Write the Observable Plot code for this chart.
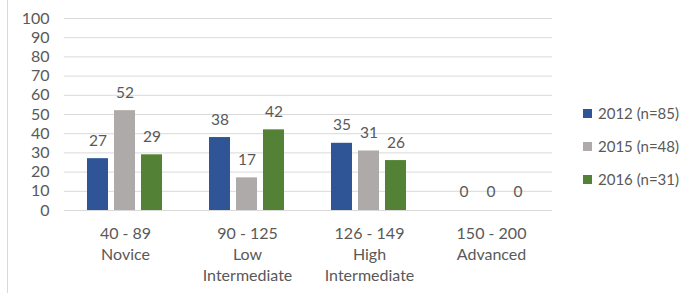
<!DOCTYPE html>
<html><head><meta charset="utf-8">
<script src="https://cdn.jsdelivr.net/npm/d3@7"></script>
<script src="https://cdn.jsdelivr.net/npm/@observablehq/plot@0.6"></script>
<style>
body{margin:0;background:#fff;}
#wrap{position:relative;width:684px;height:293px;overflow:hidden;font-family:Lato,"Open Sans",sans-serif;}
#wrap .border{position:absolute;left:7px;top:0;width:1px;height:293px;background:#d9d9d9;}
#legend{position:absolute;left:583px;top:103px;color:#595959;font-size:15px;}
#legend div{display:flex;align-items:center;height:20px;margin-bottom:13px;}
#legend span.sw{display:inline-block;width:9px;height:9px;margin-right:6px;}
</style></head>
<body><div id="wrap"><div class="border"></div><div id="chart"></div><div id="legend"></div></div>
<script>
const categories = ["40 - 89\nNovice", "90 - 125\nLow\nIntermediate", "126 - 149\nHigh\nIntermediate", "150 - 200\nAdvanced"];
const series = ["2012 (n=85)", "2015 (n=48)", "2016 (n=31)"];
const colors = ["#2F5597", "#AEAAAA", "#538135"];
const v2012 = [27, 38, 35, 0];
const v2015 = [52, 17, 31, 0];
const v2016 = [29, 42, 26, 0];
const yTicks = [0,10,20,30,40,50,60,70,80,90,100];

const valuesBySeries = [v2012, v2015, v2016];
const data = [];
categories.forEach((c, i) => series.forEach((s, j) => data.push({cat: c, series: s, value: valuesBySeries[j][i]})));

const chart = Plot.plot({
  width: 684, height: 293,
  marginLeft: 62, marginRight: 131, marginTop: 18, marginBottom: 83,
  style: {fontFamily: "Lato, 'Open Sans', sans-serif", color: "#595959", background: "transparent"},
  fx: {domain: categories, paddingInner: 0, paddingOuter: 0, label: null},
  x: {domain: series, paddingInner: 0.22, paddingOuter: 0.84, axis: null},
  y: {domain: [0, 100], ticks: yTicks, label: null},
  color: {domain: series, range: colors},
  marks: [
    Plot.gridY(yTicks, {stroke: "#d9d9d9", strokeOpacity: 1}),
    Plot.axisY(yTicks, {tickSize: 0, tickPadding: 15, fontSize: 16, fill: "#595959", label: null}),
    Plot.axisFx({anchor: "bottom", tickSize: 0, tickPadding: 13, fontSize: 16, lineHeight: 1.33, fill: "#595959", label: null}),
    Plot.barY(data, {fx: "cat", x: "series", y: "value", fill: "series"}),
    Plot.text(data, {fx: "cat", x: "series", y: "value", text: d => String(d.value), dy: -18, fontSize: 15.5, fill: "#595959"})
  ]
});
document.getElementById("chart").appendChild(chart);

const leg = document.getElementById("legend");
series.forEach((s, j) => {
  const row = document.createElement("div");
  row.innerHTML = `<span class="sw" style="background:${colors[j]}"></span>${s}`;
  leg.appendChild(row);
});
</script></body></html>
